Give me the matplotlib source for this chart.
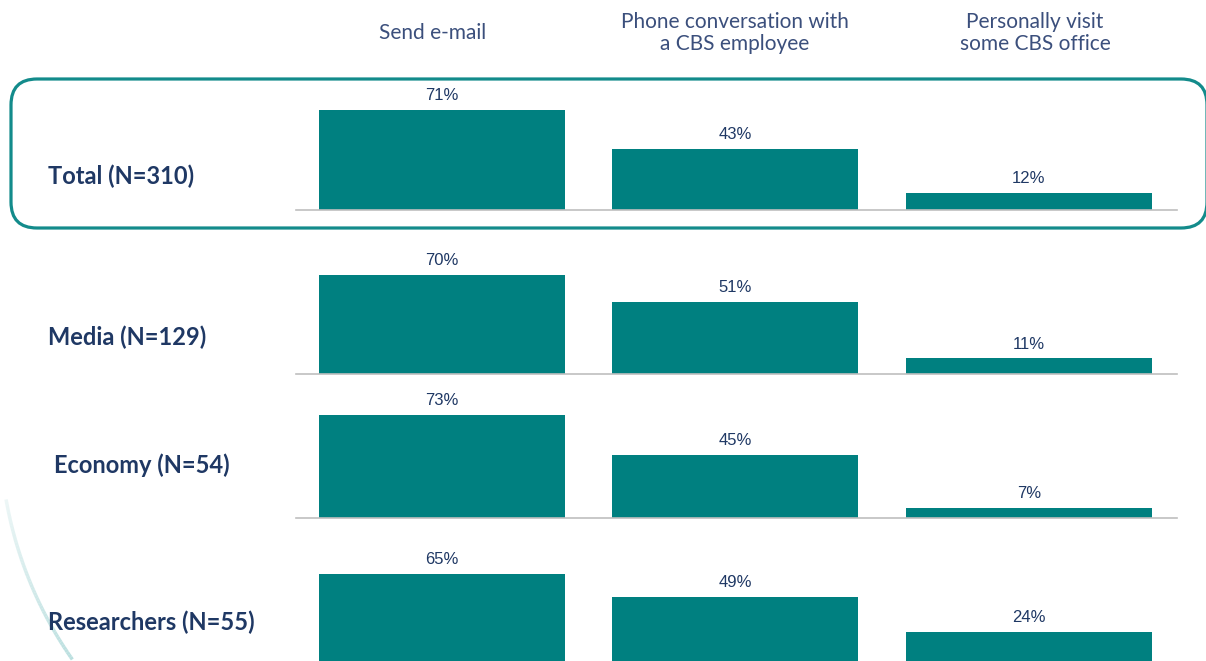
import numpy as np
import matplotlib
matplotlib.use("Agg")
import matplotlib.pyplot as plt
from matplotlib.patches import FancyBboxPatch
from matplotlib.collections import LineCollection

# survey answers: how respondents prefer to contact CBS
channels = ["Send e-mail", "Phone conversation with\na CBS employee", "Personally visit\nsome CBS office"]
groups = ["Total (N=310)", "Media (N=129)", "Economy (N=54)", "Researchers (N=55)"]
total = [71, 43, 12]
media = [70, 51, 11]
economy = [73, 45, 7]
researchers = [65, 49, 24]
rows = [total, media, economy, researchers]

W, H = 1206, 661
BAR = "#008080"
NAVY = "#1F3864"
HEAD = "#3B4F7C"

fig = plt.figure(figsize=(W / 100, H / 100), dpi=100)

# background layer in pixel units for frame, labels and ornament
bg = fig.add_axes([0, 0, 1, 1])
bg.set_xlim(0, W)
bg.set_ylim(H, 0)
bg.axis("off")

# faint decorative arc in the lower left corner
t = np.linspace(np.radians(170), np.radians(145), 60)
arc_x = 400 + 400 * np.cos(t)
arc_y = 430 + 400 * np.sin(t)
pts = np.column_stack([arc_x, arc_y]).reshape(-1, 1, 2)
segs = np.concatenate([pts[:-1], pts[1:]], axis=1)
alphas = np.linspace(0.25, 0.95, len(segs))
cols = [(0.72, 0.87, 0.87, a) for a in alphas]
bg.add_collection(LineCollection(segs, colors=cols, linewidths=2.5))

# rounded frame around the total row
bg.add_patch(FancyBboxPatch((11, 79), 1196, 149,
                            boxstyle="round,pad=0,rounding_size=26",
                            fill=False, edgecolor="#138B8B", linewidth=2.3))

# column headers
head_x = [433, 735, 1035]
for x, name in zip(head_x, channels):
    bg.text(x, 33, name, ha="center", va="center", fontsize=15,
            family="Lato", color=HEAD, linespacing=1.12)

# group labels
label_pos = [(48, 176), (48, 337), (54, 465), (48, 622)]
for (x, y), g in zip(label_pos, groups):
    bg.text(x, y, g, ha="left", va="center", fontsize=17,
            family="Lato", fontweight="bold", color=NAVY)

# one bar panel per group, baselines in pixels
baselines = [210, 374, 518, 666]
px_per_pct = 1.41
panel_h = 115
x0, x1 = 296, 1177
for vals, base in zip(rows, baselines):
    ax = fig.add_axes([x0 / W, (H - base) / H, (x1 - x0) / W, panel_h / H])
    ax.set_zorder(2)
    ax.patch.set_alpha(0)
    xs = np.arange(len(vals))
    ax.bar(xs, vals, width=0.838, color=BAR)
    ax.set_xlim(-0.497, 2.505)
    ax.set_ylim(0, panel_h / px_per_pct)
    for x, v in zip(xs, vals):
        ax.annotate(f"{v}%", (x, v), xytext=(0, 5), textcoords="offset points",
                    ha="center", va="bottom", fontsize=12,
                    family="Liberation Sans", color=NAVY)
    for s in ["top", "left", "right"]:
        ax.spines[s].set_visible(False)
    ax.spines["bottom"].set_color("#BFBFBF")
    ax.spines["bottom"].set_linewidth(1.2)
    ax.set_xticks([])
    ax.set_yticks([])

fig.savefig("out.png", dpi=100)
